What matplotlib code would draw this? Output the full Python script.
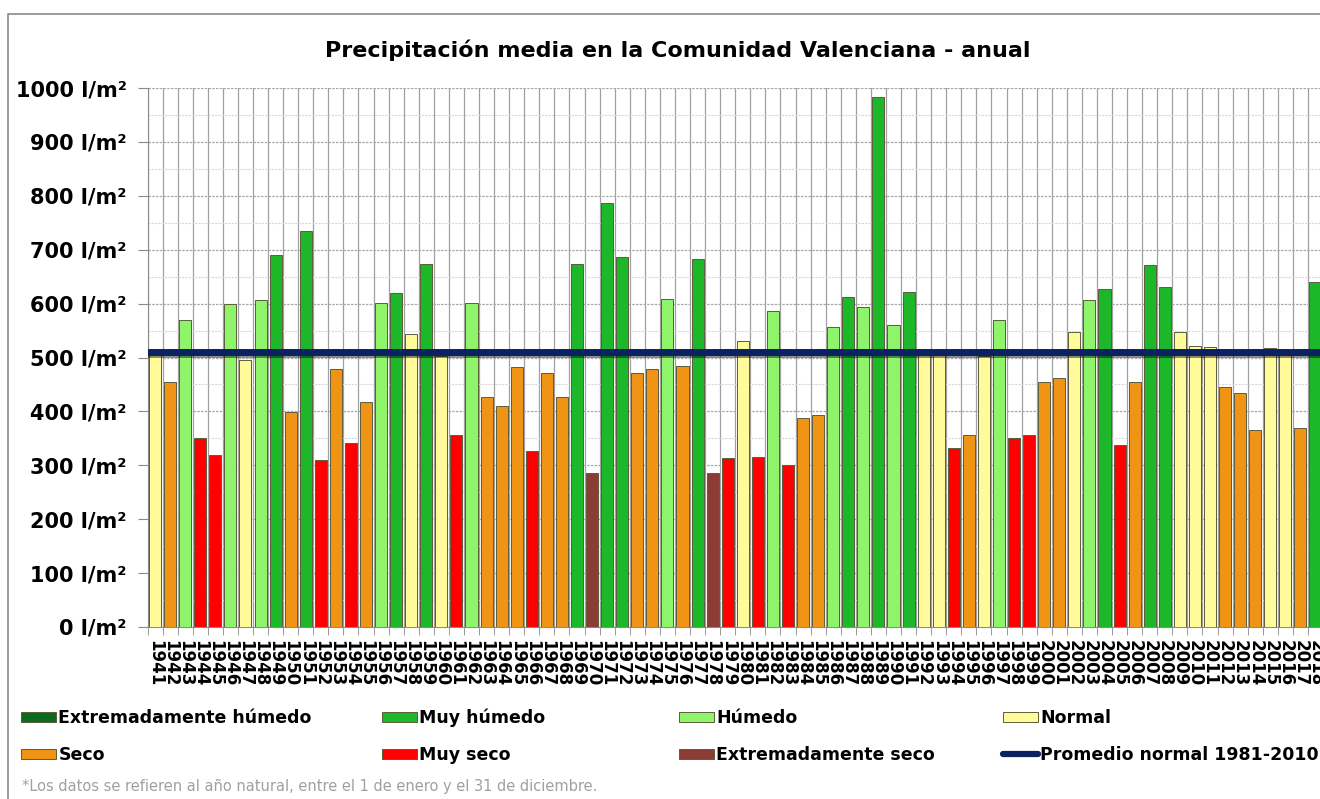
import matplotlib.pyplot as plt
import matplotlib.patheffects as pe
from matplotlib.patches import Patch, Rectangle
from matplotlib.lines import Line2D

years = list(range(1941, 2019))
precip = [507, 454, 570, 350, 319, 600, 496, 606, 691, 399,
          734, 310, 479, 342, 417, 601, 620, 544, 673, 503,
          357, 601, 427, 410, 482, 326, 471, 427, 674, 285,
          787, 687, 471, 478, 609, 484, 683, 285, 313, 531,
          315, 587, 301, 388, 394, 557, 613, 594, 983, 561,
          622, 508, 505, 333, 357, 502, 570, 351, 357, 454,
          462, 548, 606, 628, 338, 454, 672, 631, 548, 522,
          520, 445, 435, 365, 518, 507, 370, 640]
clase = ['N', 'S', 'H', 'MS', 'MS', 'H', 'N', 'H', 'MH', 'S',
         'MH', 'MS', 'S', 'MS', 'S', 'H', 'MH', 'N', 'MH', 'N',
         'MS', 'H', 'S', 'S', 'S', 'MS', 'S', 'S', 'MH', 'ES',
         'MH', 'MH', 'S', 'S', 'H', 'S', 'MH', 'ES', 'MS', 'N',
         'MS', 'H', 'MS', 'S', 'S', 'H', 'MH', 'H', 'MH', 'H',
         'MH', 'N', 'N', 'MS', 'S', 'N', 'H', 'MS', 'MS', 'S',
         'S', 'N', 'H', 'MH', 'MS', 'S', 'MH', 'MH', 'N', 'N',
         'N', 'S', 'S', 'S', 'N', 'N', 'S', 'MH']
promedio = 510

colores = {'EH': '#0a6a1e', 'MH': '#1db82a', 'H': '#8ef46a', 'N': '#fffa9a',
           'S': '#ef9415', 'MS': '#ff0000', 'ES': '#8b3c34'}
etiquetas = {'EH': 'Extremadamente húmedo', 'MH': 'Muy húmedo', 'H': 'Húmedo',
             'N': 'Normal', 'S': 'Seco', 'MS': 'Muy seco',
             'ES': 'Extremadamente seco'}

fig = plt.figure(figsize=(13.2, 7.99), dpi=100)
fig.patches.append(Rectangle((8 / 1320, -0.1), 1.2, 1 - 14 / 799 + 0.1,
                             transform=fig.transFigure, fill=False,
                             edgecolor='#8a8a8a', lw=1.2))
ax = fig.add_axes([147.5 / 1320, 1 - 627 / 799, 1175.5 / 1320, 539 / 799])

x = list(range(len(years)))
ax.bar(x, precip, width=0.8, color=[colores[c] for c in clase],
       edgecolor='#5c5c3c', linewidth=0.7, zorder=3)
ax.plot([-0.5, len(years) - 0.5], [promedio, promedio], color='#0b2262', lw=5,
        zorder=4, solid_capstyle='round',
        path_effects=[pe.SimpleLineShadow(offset=(0, -1.5), alpha=0.45, shadow_color='k'),
                      pe.Normal()])

ax.set_xlim(-0.5, len(years) - 0.5)
ax.set_ylim(0, 1000)
ax.set_yticks(range(0, 1001, 100))
ax.set_yticklabels([f'{v} l/m²' for v in range(0, 1001, 100)],
                   fontsize=15, fontweight='bold')
ax.set_yticks(range(50, 1000, 100), minor=True)
ax.set_xticks(x)
ax.set_xticklabels([str(y) for y in years], rotation=-90, fontsize=12,
                   fontweight='bold', va='top', ha='center')
ax.set_xticks([i - 0.5 for i in range(len(years) + 1)], minor=True)
ax.tick_params(axis='x', which='major', length=0, pad=9)
ax.tick_params(axis='x', which='minor', length=6, color='#8a8a8a')
ax.tick_params(axis='y', which='major', length=7, color='#8a8a8a', pad=8)
ax.tick_params(axis='y', which='minor', length=0)

ax.grid(axis='y', which='major', color='#a8a8a8', ls=(0, (2, 1)), lw=0.9, zorder=0)
ax.grid(axis='y', which='minor', color='#d8d8d8', ls=(0, (2, 1)), lw=0.8, zorder=0)
ax.grid(axis='x', which='minor', color='#a0a0a0', ls='-', lw=0.9, zorder=1)
ax.grid(axis='x', which='major', visible=False)
for s in ['top', 'right']:
    ax.spines[s].set_visible(False)
for s in ['left', 'bottom']:
    ax.spines[s].set_color('#8a8a8a')

fig.text(678 / 1320, 1 - 50 / 799, 'Precipitación media en la Comunidad Valenciana - anual',
         ha='center', va='center', fontsize=16, fontweight='bold')

# leyenda en 4 columnas y 2 filas
orden = [['EH', 'S'], ['MH', 'MS'], ['H', 'ES'], ['N', None]]
col_x = [21, 382, 679, 1003]
fila_y = [718, 755]
for cx, items in zip(col_x, orden):
    for fy, c in zip(fila_y, items):
        if c is None:
            h = Line2D([0], [0], color='#0b2262', lw=4.5, solid_capstyle='round')
            lab = 'Promedio normal 1981-2010'
        else:
            h = Patch(facecolor=colores[c], edgecolor='#5c5c3c', lw=0.7)
            lab = etiquetas[c]
        fig.legend([h], [lab], loc='center left',
                   bbox_to_anchor=(cx / 1320, 1 - fy / 799), frameon=False,
                   borderpad=0, borderaxespad=0, handlelength=2.0,
                   handleheight=0.55, handletextpad=0.15,
                   prop={'size': 12.5, 'weight': 'bold'})

fig.text(22 / 1320, 1 - 787 / 799,
         '*Los datos se refieren al año natural, entre el 1 de enero y el 31 de diciembre.',
         ha='left', va='center', fontsize=10.5, color='#a0a0a0')

fig.savefig('out.png', dpi=100)
